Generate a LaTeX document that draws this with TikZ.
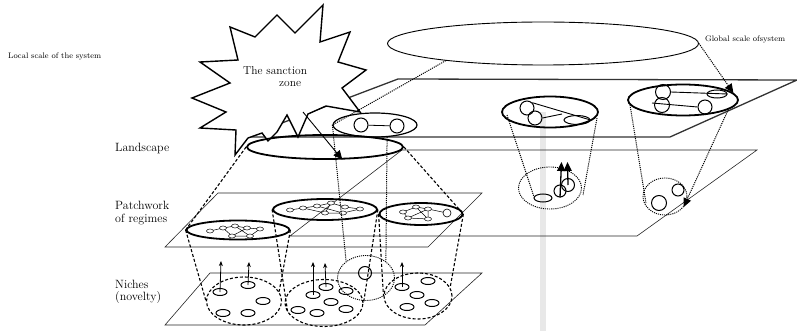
\documentclass[tikz,border=0pt]{standalone}
\usetikzlibrary{shapes.geometric,arrows.meta}
\begin{document}
\begin{tikzpicture}[x=1pt,y=-1pt,
  plane/.style={draw=black!85,line width=0.6pt},
  topplane/.style={draw=black!80,line width=1.3pt},
  ell/.style={ellipse,draw,inner sep=0pt,line width=1.8pt},
  dell/.style={ellipse,draw,inner sep=0pt,line width=1.1pt,dash pattern=on 3pt off 2pt},
  tell/.style={ellipse,draw,inner sep=0pt,line width=0.9pt,dash pattern=on 1.1pt off 1pt},
  smell/.style={ellipse,draw,inner sep=0pt,minimum width=14pt,minimum height=7pt,line width=1pt},
  nd/.style={ellipse,draw,fill=white,inner sep=0pt,minimum width=7pt,minimum height=4pt,line width=0.5pt},
  circ/.style={circle,draw,inner sep=0pt,line width=1pt},
  lnk/.style={line width=0.5pt},
  dashcone/.style={line width=1.1pt,dash pattern=on 3pt off 2pt},
  dotcone/.style={line width=1pt,dash pattern=on 1.1pt off 1pt},
  uparr/.style={-{Stealth[length=5pt,width=4pt]},line width=0.8pt},
  bigtip/.style={-{Triangle[length=9pt,width=8pt]}},
  lbl/.style={font=\fontsize{12}{12.5}\selectfont,inner sep=0pt,anchor=west,align=left},
  smalltxt/.style={font=\fontsize{8}{8}\selectfont,inner sep=0pt,anchor=west}
]
\useasboundingbox (0,0) rectangle (797,331);

% gray vertical bar
\fill[black!9] (540,112) rectangle (546,331);

% planes
\draw[plane] (210,273) -- (482,273) -- (425,325) -- (165,325) -- cycle;
\draw[plane] (218,193) -- (482,193) -- (428,247) -- (165,247) -- cycle;
\draw[plane] (402,150) -- (757,150) -- (637,236) -- (290,236) -- cycle;
\draw[topplane] (398,79) -- (797,80) -- (670,137) -- (245,137) -- cycle;

% sanction zone star
\draw[fill=white,line width=1.4pt,line join=miter]
 (323,5) -- (320,42) -- (350,32) -- (338,62) -- (366,70) -- (342,88) -- (360,112)
 -- (326,106) -- (308,114) -- (298,137) -- (287,115) -- (277,132) -- (268,141)
 -- (262,133) -- (248,138) -- (235,155) -- (236,130) -- (200,128) -- (226,112)
 -- (192,98) -- (230,83) -- (200,62) -- (238,60) -- (230,27) -- (255,37)
 -- (277,15) -- (295,33) -- cycle;
\node[font=\fontsize{11.5}{12}\selectfont,inner sep=0pt,anchor=west] (s1) at (243,71) {The sanction};
\node[font=\fontsize{11.5}{12}\selectfont,inner sep=0pt,anchor=west] (s2) at (279,83.5) {zone};

% texts
\node[smalltxt] (tlocal) at (8,57) {Local scale of the system};
\node[smalltxt] (tglobal) at (705,39.5) {Global scale ofsystem};
\node[lbl] (tland) at (115,149) {Landscape};
\node[lbl] (tpatch) at (115,213) {Patchwork\\of regimes};
\node[lbl] (tniche) at (115,292) {Niches\\(novelty)};

% big global ellipse
\node[ellipse,draw,inner sep=0pt,line width=0.9pt,minimum width=311pt,minimum height=43pt] (global) at (543,43.5) {};

% landscape ellipse and small upper ellipse
\node[ell,minimum width=156pt,minimum height=24pt] (land) at (325,147) {};
\node[ell,line width=1.2pt,minimum width=84pt,minimum height=24pt] (ul) at (375,125) {};
\node[circ,minimum size=14pt] (ulc1) at (361,125) {};
\node[circ,minimum size=14pt] (ulc2) at (397,126) {};
\draw[lnk,line width=0.8pt] (ulc1) -- (ulc2);

% upper right ellipses
\node[ell,minimum width=96pt,minimum height=31pt] (U2) at (550,112) {};
\node[circ,minimum size=14pt] (u2a) at (527,108) {};
\node[circ,minimum size=14pt] (u2b) at (535,118) {};
\node[ellipse,draw,inner sep=0pt,line width=1pt,minimum width=26pt,minimum height=9pt] (u2c) at (577,120) {};
\draw[line width=0.9pt] (u2a.north east) -- (u2c.east);
\draw[line width=0.9pt] (u2b.east) -- (562,114);

\node[ell,minimum width=110pt,minimum height=31pt] (U3) at (683,100) {};
\node[circ,minimum size=15pt] (u3a) at (663,92) {};
\node[circ,minimum size=15pt] (u3b) at (662,105) {};
\node[circ,minimum size=14pt] (u3c) at (705,107) {};
\node[ellipse,draw,inner sep=0pt,line width=1pt,minimum width=20pt,minimum height=8pt] (u3d) at (717,94) {};
\draw[line width=0.9pt] (u3a.east) -- (u3d.east);
\draw[line width=0.9pt] (652,103) -- (u3c.west);

% landscape-level dotted circles (right)
\node[tell,minimum width=63pt,minimum height=42pt] (L2) at (550,188) {};
\node[ellipse,draw,inner sep=0pt,line width=1pt,minimum width=18pt,minimum height=8pt] (l2a) at (543,198) {};
\node[circ,minimum size=12pt] (l2b) at (560,191) {};
\node[circ,minimum size=13pt] (l2c) at (568,185) {};
\draw[line width=1.3pt,bigtip] (l2b.south) -- (561.5,162);
\draw[line width=1.3pt,bigtip] (l2c.center) -- (567.5,162);

\node[tell,minimum width=44pt,minimum height=37pt] (L3) at (665,196.5) {};
\node[circ,minimum size=15pt] (l3a) at (659,203) {};
\node[circ,minimum size=12pt] (l3b) at (678,190) {};

% patchwork ellipses
\node[ell,minimum width=103pt,minimum height=19pt] (P1) at (238,230) {};
\node[ell,minimum width=104pt,minimum height=21pt] (P2) at (325,209.5) {};
\node[ell,minimum width=83pt,minimum height=22pt] (P3) at (421,214) {};

% networks in P1
\coordinate (a1) at (210,231); \coordinate (b1) at (223,228); \coordinate (c1) at (235,226);
\coordinate (d1) at (247,228); \coordinate (e1) at (260,229); \coordinate (f1) at (232,236);
\coordinate (g1) at (250,236);
\draw[lnk] (a1)--(b1)--(c1)--(d1)--(e1) (b1)--(f1)--(g1)--(c1) (d1)--(f1) (e1)--(g1);
\foreach \n in {a1,b1,c1,d1,e1,f1,g1} \node[nd] (n\n) at (\n) {};
% networks in P2
\coordinate (a2) at (290,210); \coordinate (b2) at (303,208); \coordinate (c2) at (317,206);
\coordinate (d2) at (331,203); \coordinate (e2) at (345,207); \coordinate (f2) at (360,209);
\coordinate (g2) at (325,213); \coordinate (h2) at (343,213);
\draw[lnk] (a2)--(b2)--(c2)--(d2)--(e2)--(f2) (b2)--(g2)--(h2)--(f2) (c2)--(h2) (d2)--(g2);
\foreach \n in {a2,b2,c2,d2,e2,f2,g2,h2} \node[nd] (n\n) at (\n) {};
% networks in P3
\coordinate (a3) at (403,212); \coordinate (b3) at (416,207); \coordinate (c3) at (428,209);
\coordinate (d3) at (408,218); \coordinate (e3) at (428,219); \coordinate (f3) at (447,213);
\draw[lnk] (a3)--(b3)--(c3)--(f3) (a3)--(d3)--(e3)--(c3) (b3)--(e3) (d3)--(c3);
\foreach \n in {a3,b3,c3,d3,e3} \node[nd] (n\n) at (\n) {};
\node[circ,line width=0.6pt,minimum size=8pt,fill=white] (nf3) at (f3) {};

% niche dashed ellipses
\node[dell,minimum width=75pt,minimum height=48pt] (N1) at (244,301) {};
\node[dell,minimum width=78pt,minimum height=47pt] (N2) at (324,303) {};
\node[dell,minimum width=68pt,minimum height=46pt] (N3) at (418,296) {};
% niche dotted circle
\node[tell,minimum width=57pt,minimum height=45pt] (NC) at (366,278) {};
\node[circ,minimum size=13pt] (ncc) at (365,273) {};

% small niche ellipses
\node[smell] (m11) at (220,292) {}; \node[smell] (m12) at (248,285) {};
\node[smell] (m13) at (263,301) {}; \node[smell] (m14) at (223,313) {};
\node[smell] (m15) at (248,313) {};
\node[smell] (m21) at (313,295) {}; \node[smell] (m22) at (326,287) {};
\node[smell] (m23) at (346,291) {}; \node[smell] (m24) at (331,302) {};
\node[smell] (m25) at (298,310) {}; \node[smell] (m26) at (317,313) {};
\node[smell] (m27) at (346,309) {};
\node[smell] (m31) at (402,287) {}; \node[smell] (m32) at (428,281) {};
\node[smell] (m33) at (417,295) {}; \node[smell] (m34) at (432,303) {};
\node[smell] (m35) at (407,307) {};
\coordinate (t11) at (221,261); \coordinate (t12) at (249,262);
\coordinate (t21) at (313,262); \coordinate (t22) at (325,263);
\coordinate (t31) at (402,262);
\draw[uparr] (m11.center) -- (t11);
\draw[uparr] (m12.center) -- (t12);
\draw[uparr] (m21.center) -- (t21);
\draw[uparr] (m22.center) -- (t22);
\draw[uparr] (m31.center) -- (t31);

% dashed cones
\draw[dashcone] (land.west) -- (P1.west);
\draw[dashcone] (land.east) -- (P3.east);
\draw[dashcone] (P1.west) -- (N1.west);
\draw[dashcone] (P1.east) -- (N1.15);
\draw[dashcone] (P2.west) -- (N2.195);
\draw[dashcone] (P2.east) -- (N2.east);
\draw[dashcone] (P3.west) -- (N3.west);
\draw[dashcone] (P3.east) -- (N3.15);

% dotted cones
\draw[dotcone] (global.190) -- (ul.west) -- (NC.140);
\draw[dotcone] (ul.-45) -- (NC.40);
\coordinate (u2l) at (507,115); \coordinate (u2r) at (597,118);
\coordinate (l2l) at (534,197); \coordinate (l2r) at (583,195);
\draw[dotcone] (u2l) -- (l2l);
\draw[dotcone] (u2r) -- (l2r);
\coordinate (u3l) at (630,105); \coordinate (l3l) at (646,203);
\draw[dotcone] (u3l) -- (l3l);
\draw[dotcone,bigtip] (U3.-12) -- (L3.-30);
\draw[dotcone,bigtip] (global.east) -- (U3.8);

% solid arrow from sanction zone
\coordinate (sz) at (303,112);
\draw[line width=0.9pt,bigtip] (sz) -- (land.-36);
\end{tikzpicture}
\end{document}
